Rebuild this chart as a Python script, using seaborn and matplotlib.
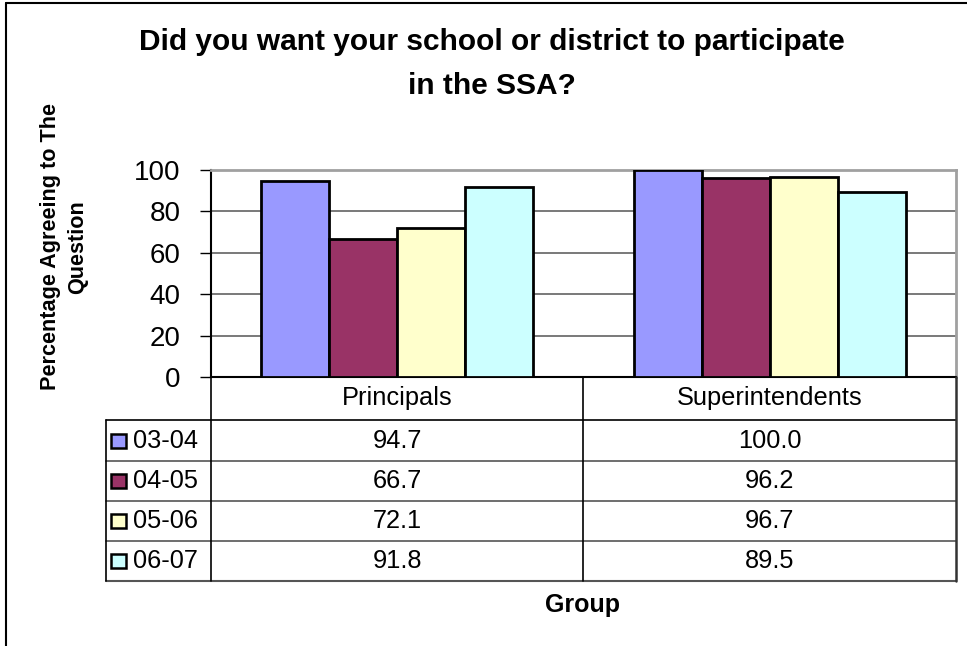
import matplotlib
matplotlib.use("Agg")
import matplotlib.pyplot as plt
import seaborn as sns
import pandas as pd
from matplotlib.lines import Line2D
from matplotlib.patches import Rectangle

groups = ["Principals", "Superintendents"]
years = ["03-04", "04-05", "05-06", "06-07"]
principals = [94.7, 66.7, 72.1, 91.8]
superintendents = [100.0, 96.2, 96.7, 89.5]
colors = ["#9999FF", "#993366", "#FFFFCC", "#CCFFFF"]
yticks = [0, 20, 40, 60, 80, 100]

rows = []
for yr, p, s in zip(years, principals, superintendents):
    rows.append({"Group": groups[0], "Year": yr, "Value": p})
    rows.append({"Group": groups[1], "Year": yr, "Value": s})
df = pd.DataFrame(rows)

sns.set_theme(style="white")
plt.rcParams["font.family"] = ["Liberation Sans", "DejaVu Sans"]
plt.rcParams["text.color"] = "black"
plt.rcParams["axes.labelcolor"] = "black"
plt.rcParams["xtick.color"] = "black"
plt.rcParams["ytick.color"] = "black"

W, H = 967, 646
fig = plt.figure(figsize=(W / 100, H / 100), dpi=100)
fig.patch.set_facecolor("white")

def fx(px):
    return px / W

def fy(py):
    return 1 - py / H

ax_l, ax_r, ax_t, ax_b = 211, 956, 170, 377
ax = fig.add_axes([fx(ax_l), fy(ax_b), fx(ax_r - ax_l), (ax_b - ax_t) / H])

sns.barplot(data=df, x="Group", y="Value", hue="Year", order=groups,
            hue_order=years, palette=colors, width=0.73, gap=0,
            edgecolor="black", linewidth=2, saturation=1, ax=ax,
            legend=False, zorder=3)
for p in ax.patches:
    p.set_edgecolor("black")
    p.set_linewidth(2)

ax.set_ylim(0, 100)
ax.set_xlim(-0.5, 1.5)
ax.set_yticks(yticks)
ax.set_yticklabels([str(t) for t in yticks], fontsize=20)
ax.set_xticks([])
ax.set_xlabel("")
ax.set_ylabel("")
ax.tick_params(axis="y", direction="out", length=8, width=1, color="black",
               pad=14, left=True, labelcolor="black")
ax.yaxis.grid(True, color="#6e6e6e", linewidth=1.3, zorder=0)
ax.set_axisbelow(True)
for side in ["top", "right"]:
    ax.spines[side].set_color("#a0a0a0")
    ax.spines[side].set_linewidth(2)
ax.spines["left"].set_color("black")
ax.spines["left"].set_linewidth(1.5)
ax.spines["bottom"].set_color("black")
ax.spines["bottom"].set_linewidth(1.5)

# Data table beneath the plot
tbl_left = 106
col_x = [ax_l, 583, ax_r]
row_y = [ax_b, 420, 461, 501, 541, 581]

def hline(x0, x1, y, color="black", lw=1.2):
    fig.add_artist(Line2D([fx(x0), fx(x1)], [fy(y), fy(y)], color=color, lw=lw))

def vline(x, y0, y1, color="black", lw=1.2):
    fig.add_artist(Line2D([fx(x), fx(x)], [fy(y0), fy(y1)], color=color, lw=lw))

hline(tbl_left, ax_r, row_y[1], color="black")
for y in row_y[2:-1]:
    hline(tbl_left, ax_r, y, color="#555555")
hline(tbl_left, ax_r, row_y[-1], color="#555555", lw=1.5)
vline(tbl_left, row_y[1], row_y[-1])
vline(col_x[0], row_y[0], row_y[-1])
vline(col_x[1], row_y[0], row_y[-1])
vline(col_x[2], row_y[0], row_y[-1], color="#333333", lw=1.8)

for i, g in enumerate(groups):
    cx = (col_x[i] + col_x[i + 1]) / 2
    fig.text(fx(cx), fy((row_y[0] + row_y[1]) / 2), g, ha="center",
             va="center", fontsize=18.3)

series = [principals, superintendents]
for r, yr in enumerate(years):
    cy = (row_y[r + 1] + row_y[r + 2]) / 2
    fig.add_artist(Rectangle((fx(111), fy(cy + 7)), fx(15), 14 / H,
                             facecolor=colors[r], edgecolor="black", lw=1.8))
    fig.text(fx(133), fy(cy), yr, ha="left", va="center", fontsize=18.3)
    for i in range(len(groups)):
        cx = (col_x[i] + col_x[i + 1]) / 2
        fig.text(fx(cx), fy(cy), f"{series[i][r]:.1f}", ha="center",
                 va="center", fontsize=18.3)

# Titles and axis labels
fig.text(fx(492), fy(64), "Did you want your school or district to participate\nin the SSA?",
         ha="center", va="center", fontsize=21.5, fontweight="bold",
         linespacing=1.7)
fig.text(fx(64), fy(247), "Percentage Agreeing to The\nQuestion", ha="center",
         va="center", rotation=90, fontsize=15.6, fontweight="bold",
         linespacing=1.4)
fig.text(fx(583), fy(605), "Group", ha="center", va="center", fontsize=18,
         fontweight="bold")

# Chart area border
fig.add_artist(Line2D([fx(6), fx(6)], [0, fy(3)], color="black", lw=1.5))
fig.add_artist(Line2D([fx(6), 1], [fy(3), fy(3)], color="black", lw=1.5))

fig.savefig("out.png", dpi=100)
